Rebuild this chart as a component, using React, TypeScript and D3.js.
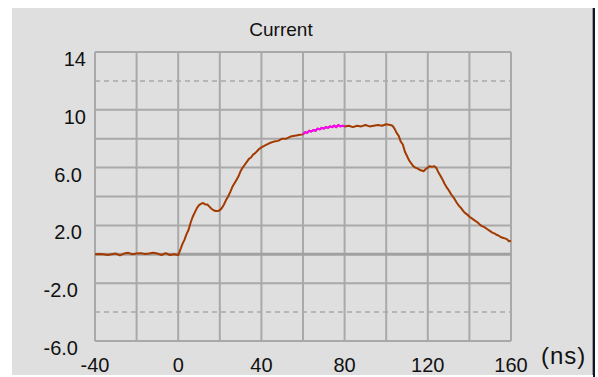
import React from "react";
import * as d3 from "d3";

const title = "Current";
const unitLabel = "(ns)";

const xLabelTicks = [-40, 0, 40, 80, 120, 160];
const xGridTicks = [-40, -20, 0, 20, 40, 60, 80, 100, 120, 140, 160];
const yLabelTicks = [14, 10, 6, 2, -2, -6];
const yLabelText = ["14", "10", "6.0", "2.0", "-2.0", "-6.0"];
const yGridTicks = [14, 10, 8, 6, 4, 2, -2, -6];
const yDashedTicks = [12, -4];
const zeroLine = 0;

const highlightStart = 60;
const highlightEnd = 80;

const times = [
  -40, -38, -36, -34, -32, -30, -28, -26, -24, -22, -20, -18, -16, -14, -12, -10, -8, -6, -4, -2, 0,
  1, 2, 3, 4, 5, 6, 7, 8, 9, 10, 11, 12, 13, 14, 15, 16, 17, 18, 19, 20,
  21, 22, 23, 24, 25, 26, 27, 28, 29, 30, 31, 32, 33, 34, 35, 36, 37, 38, 39, 40,
  42, 44, 46, 48, 50, 52, 54, 56, 58, 60,
  61, 62, 63, 64, 65, 66, 67, 68, 69, 70, 71, 72, 73, 74, 75, 76, 77, 78, 79, 80,
  82, 84, 86, 88, 90, 92, 94, 96, 98, 100, 102, 103,
  104, 105, 106, 107, 108, 109, 110, 111, 112, 113, 114, 115, 116, 117, 118, 119, 120,
  121, 122, 123, 124, 125, 126, 127, 128, 129, 130, 131, 132, 133, 134, 135, 136, 137, 138, 139, 140,
  141, 142, 143, 144, 145, 146, 147, 148, 149, 150, 151, 152, 153, 154, 155, 156, 157, 158, 159, 160,
];

const current = [
  0.0, 0.02, 0.0, -0.05, 0.0, 0.05, -0.08, 0.05, 0.1, 0.0, 0.05, 0.08, 0.02, 0.05, 0.1, 0.05, -0.05, 0.08, -0.05, 0.0, -0.05,
  0.3, 0.7, 1.0, 1.4, 1.7, 2.2, 2.6, 2.9, 3.2, 3.4, 3.5, 3.55, 3.45, 3.45, 3.3, 3.15, 3.05, 3.0, 3.0, 3.05,
  3.2, 3.45, 3.75, 4.0, 4.3, 4.65, 4.9, 5.15, 5.4, 5.75, 6.0, 6.2, 6.4, 6.6, 6.7, 6.9, 7.0, 7.15, 7.3, 7.4,
  7.55, 7.7, 7.8, 7.85, 8.0, 8.0, 8.15, 8.2, 8.25, 8.3,
  8.45, 8.4, 8.55, 8.5, 8.6, 8.55, 8.7, 8.65, 8.75, 8.7, 8.8, 8.75, 8.85, 8.8, 8.9, 8.8, 8.95, 8.85, 8.9, 8.85,
  8.9, 8.8, 8.9, 8.85, 8.95, 8.85, 8.9, 8.95, 8.9, 9.0, 8.95, 8.9,
  8.7, 8.4, 8.2, 7.8, 7.6, 7.1, 6.8, 6.5, 6.3, 6.1, 6.0, 5.95, 5.85, 5.8, 5.75, 5.9, 6.0,
  6.1, 6.05, 6.1, 6.0, 5.7, 5.45, 5.2, 4.9, 4.65, 4.45, 4.2, 4.0, 3.8, 3.55, 3.35, 3.2, 3.0, 2.85, 2.75, 2.6,
  2.5, 2.4, 2.3, 2.2, 2.05, 1.95, 1.9, 1.8, 1.7, 1.6, 1.5, 1.45, 1.35, 1.3, 1.2, 1.15, 1.1, 1.05, 0.9, 0.95,
];

const W = 598;
const H = 377;
const plot = { left: 95, right: 511, top: 52, bottom: 341 };

const FONT = "'Liberation Sans', Arial, sans-serif";
const BG = "#dfdfdf";
const GRID = "#a9a9a9";
const LINE = "#a33a00";
const HILITE = "#ff00ff";
const TEXT = "#111111";

export default function App() {
  const x = d3.scaleLinear().domain([-40, 160]).range([plot.left, plot.right]);
  const y = d3.scaleLinear().domain([-6, 14]).range([plot.bottom, plot.top]);

  const pts = times.map((t, i) => ({ t, v: current[i] }));
  const line = d3
    .line<{ t: number; v: number }>()
    .x((d) => x(d.t))
    .y((d) => y(d.v));
  const hiPts = pts.filter((d) => d.t >= highlightStart && d.t <= highlightEnd);

  const yLabelX = (s: string) => {
    let xr = plot.left - 9;
    if (s.includes(".")) xr -= 4;
    if (s.startsWith("-")) xr -= 4;
    return xr;
  };

  return (
    <svg
      width={W}
      height={H}
      style={{ position: "absolute", left: 0, top: 0, display: "block" }}
    >
      <rect x={0} y={0} width={W} height={H} fill="#ffffff" />
      <rect x={12} y={8} width={581} height={367} fill={BG} />
      <rect x={592} y={8} width={1} height={367} fill="#9a9a9a" />
      <rect x={593} y={8} width={2} height={369} fill="#10142a" />

      <text x={281} y={36} fontFamily={FONT} fontSize={19} fill={TEXT} textAnchor="middle">
        {title}
      </text>

      {yDashedTicks.map((v) => (
        <line
          key={"d" + v}
          x1={plot.left}
          x2={plot.right}
          y1={y(v)}
          y2={y(v)}
          stroke={GRID}
          strokeWidth={1.5}
          strokeDasharray="5,4"
        />
      ))}

      {yGridTicks.map((v) => (
        <line
          key={"h" + v}
          x1={plot.left}
          x2={plot.right}
          y1={y(v)}
          y2={y(v)}
          stroke={GRID}
          strokeWidth={2}
        />
      ))}
      {xGridTicks.map((t) => (
        <line
          key={"v" + t}
          x1={x(t)}
          x2={x(t)}
          y1={plot.top}
          y2={plot.bottom}
          stroke={GRID}
          strokeWidth={2}
        />
      ))}
      <line
        x1={plot.left}
        x2={plot.right}
        y1={y(zeroLine)}
        y2={y(zeroLine)}
        stroke="#a0a0a0"
        strokeWidth={3}
      />

      <path d={line(pts) || ""} fill="none" stroke={LINE} strokeWidth={2} strokeLinejoin="round" />
      <path d={line(hiPts) || ""} fill="none" stroke={HILITE} strokeWidth={2} strokeLinejoin="round" />

      {yLabelTicks.map((v, i) => (
        <text
          key={"yl" + v}
          x={yLabelX(yLabelText[i])}
          y={y(v) + 14}
          fontFamily={FONT}
          fontSize={20}
          fill={TEXT}
          textAnchor="end"
        >
          {yLabelText[i]}
        </text>
      ))}

      {xLabelTicks.map((t) => (
        <text
          key={"xl" + t}
          x={x(t)}
          y={372}
          fontFamily={FONT}
          fontSize={20}
          fill={TEXT}
          textAnchor="middle"
        >
          {String(t)}
        </text>
      ))}
      <text x={541} y={364} fontFamily={FONT} fontSize={24} fill={TEXT} letterSpacing={1}>
        {unitLabel}
      </text>
    </svg>
  );
}
